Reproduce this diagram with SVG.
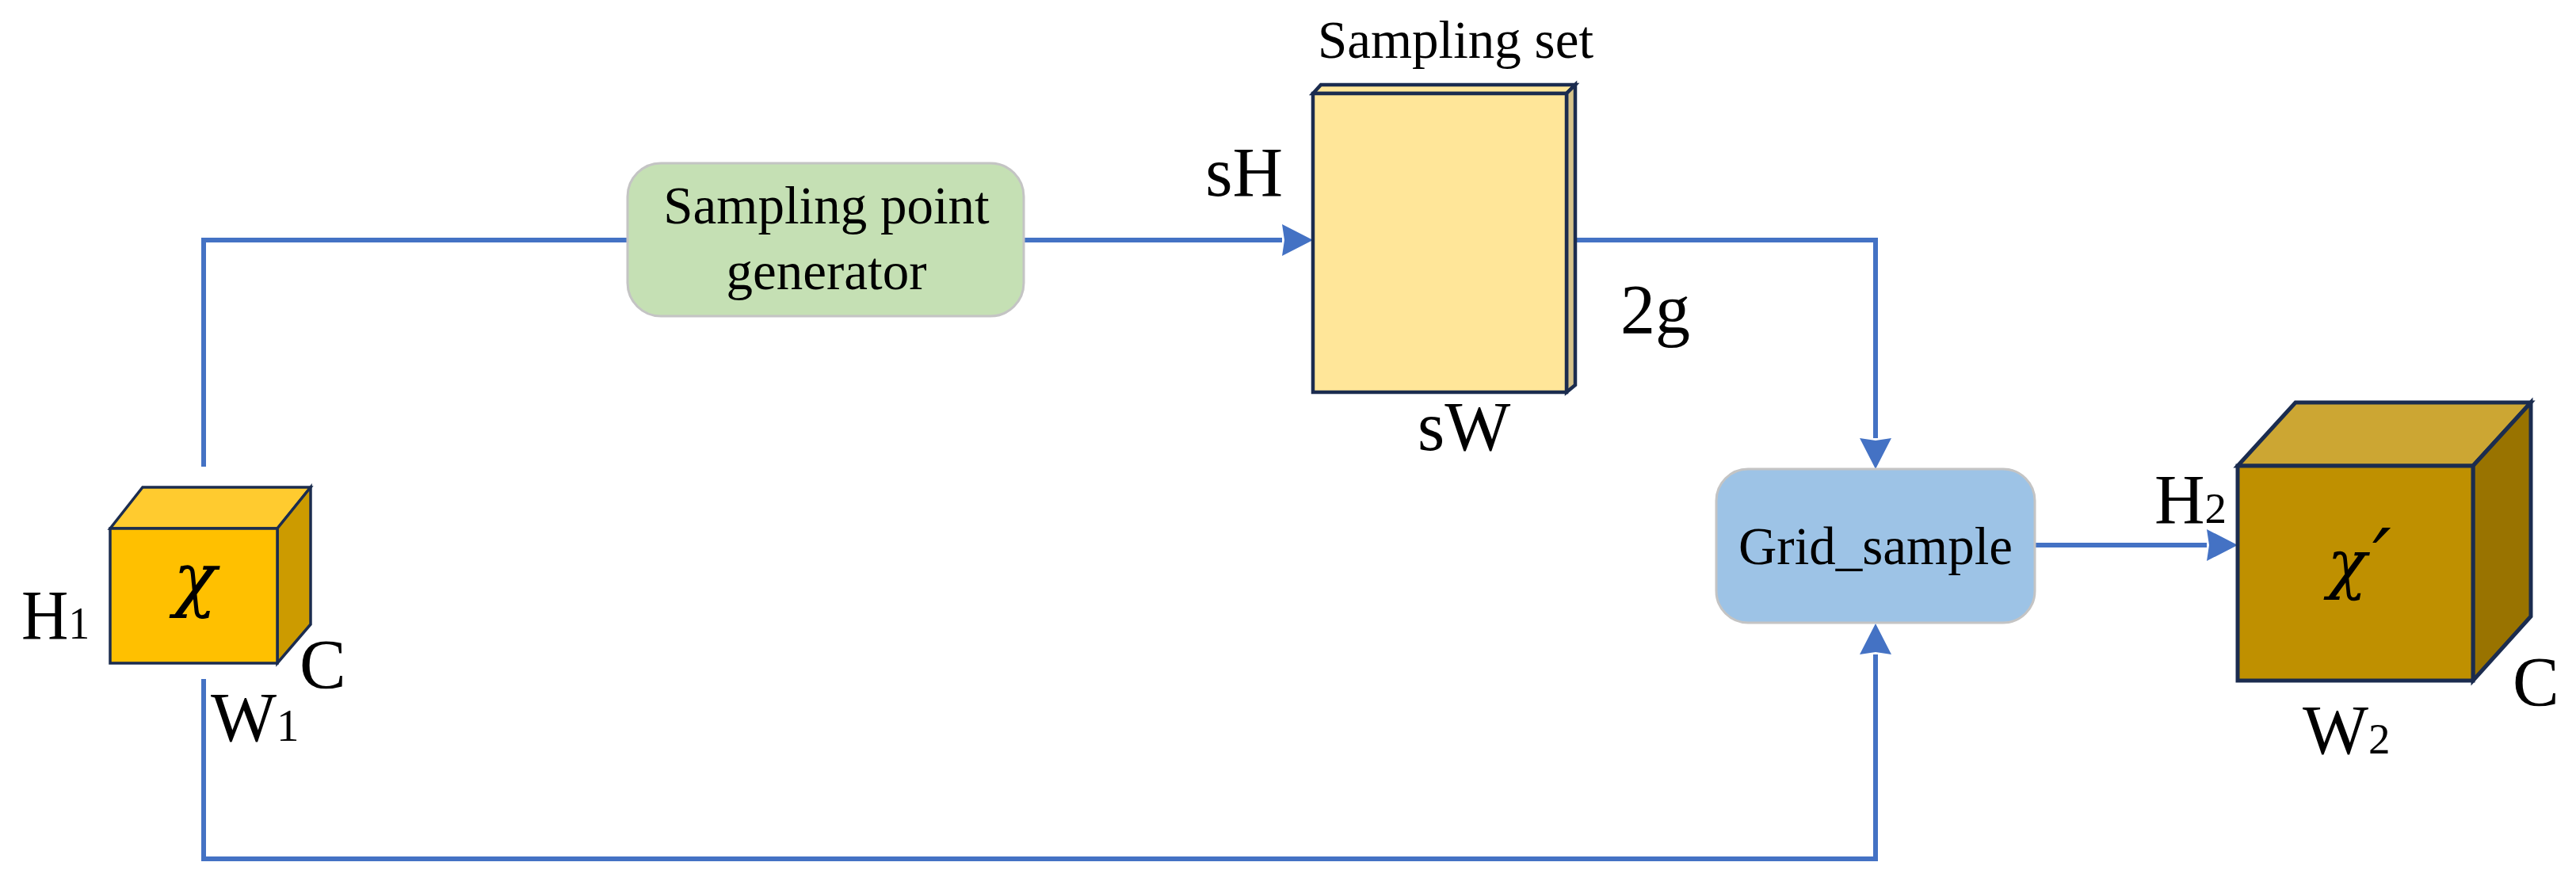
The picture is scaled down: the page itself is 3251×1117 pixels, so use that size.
<svg xmlns="http://www.w3.org/2000/svg" width="3251" height="1117" viewBox="0 0 3251 1117">
<style>
.t{font-family:"Liberation Serif","Times New Roman",serif;fill:#000}
.m{font-family:"DejaVu Serif","Liberation Serif",serif;font-style:italic;fill:#000}
.c{fill:none;stroke:#4472C4;stroke-width:6}
.e{stroke:#1B2C4F;stroke-linejoin:miter}
.box{stroke:#C4C4C4;stroke-width:3}
</style>
<defs>
<marker id="ah" markerUnits="userSpaceOnUse" markerWidth="40" markerHeight="40" refX="0" refY="20" orient="auto" overflow="visible">
<path d="M0,0 L39,20 L0,40 L3,20 Z" fill="#4472C4"/>
</marker>
</defs>
<rect width="3251" height="1117" fill="#FFFFFF"/>
<g id="connectors">
<path class="c" d="M257,589 V303 H792"/>
<path class="c" d="M1292,303 H1618" marker-end="url(#ah)"/>
<path class="c" d="M1988,303 H2367 V553" marker-end="url(#ah)"/>
<path class="c" d="M257,857 V1084 H2367 V826" marker-end="url(#ah)"/>
<path class="c" d="M2568,688 H2785" marker-end="url(#ah)"/>
</g>
<g id="input-x">
<polygon class="e" stroke-width="3.5" fill="#FFCB2F" points="139,667 180,615 392,615 350,667"/>
<polygon class="e" stroke-width="3.5" fill="#CC9B00" points="350,667 392,615 392,788 350,837"/>
<rect class="e" stroke-width="3.5" fill="#FFC000" x="139" y="667" width="211" height="170"/>
<text class="m" x="246" y="761" font-size="90" text-anchor="middle">χ</text>
<text class="t" x="27" y="806" font-size="88" textLength="86" lengthAdjust="spacingAndGlyphs">H<tspan font-size="57">1</tspan></text>
<text class="t" x="378" y="868" font-size="88">C</text>
<text class="t" x="266" y="935" font-size="88">W<tspan font-size="57">1</tspan></text>
</g>
<g id="sampling-point-generator">
<rect class="box" x="792" y="206" width="500" height="193" rx="42" ry="42" fill="#C5E0B4"/>
<text class="t" x="1043" y="282" font-size="67" text-anchor="middle">Sampling point</text>
<text class="t" x="1043" y="365" font-size="67" text-anchor="middle">generator</text>
</g>
<g id="sampling-set">
<polygon class="e" stroke-width="4.5" fill="#FFE699" points="1657,118 1667,107 1988,107 1977,118"/>
<polygon class="e" stroke-width="4.5" fill="#D6C38A" points="1977,118 1988,107 1988,486 1977,495"/>
<rect class="e" stroke-width="4.5" fill="#FFE699" x="1657" y="118" width="320" height="377"/>
<text class="t" x="1663" y="73" font-size="67">Sampling set</text>
<text class="t" x="1619" y="247" font-size="88" text-anchor="end">sH</text>
<text class="t" x="2045" y="420" font-size="88">2g</text>
<text class="t" x="1789" y="568" font-size="88">sW</text>
</g>
<g id="grid-sample">
<rect class="box" x="2166" y="592" width="402" height="194" rx="40" ry="40" fill="#9DC3E6"/>
<text class="t" x="2367" y="712" font-size="67" text-anchor="middle">Grid_sample</text>
</g>
<g id="output-x">
<polygon class="e" stroke-width="5" fill="#CCA633" points="2824,588 2897,508 3194,508 3121,588"/>
<polygon class="e" stroke-width="5" fill="#997300" points="3121,588 3194,508 3194,778 3121,859"/>
<rect class="e" stroke-width="5" fill="#BF9000" x="2824" y="588" width="297" height="271"/>
<text class="m" x="2962" y="740" font-size="82" text-anchor="middle">χ</text>
<text class="m" x="2994" y="742" font-size="105">′</text>
<text class="t" x="2719" y="660" font-size="88">H<tspan font-size="55">2</tspan></text>
<text class="t" x="3171" y="890" font-size="88">C</text>
<text class="t" x="2906" y="951" font-size="88">W<tspan font-size="55">2</tspan></text>
</g>
</svg>
